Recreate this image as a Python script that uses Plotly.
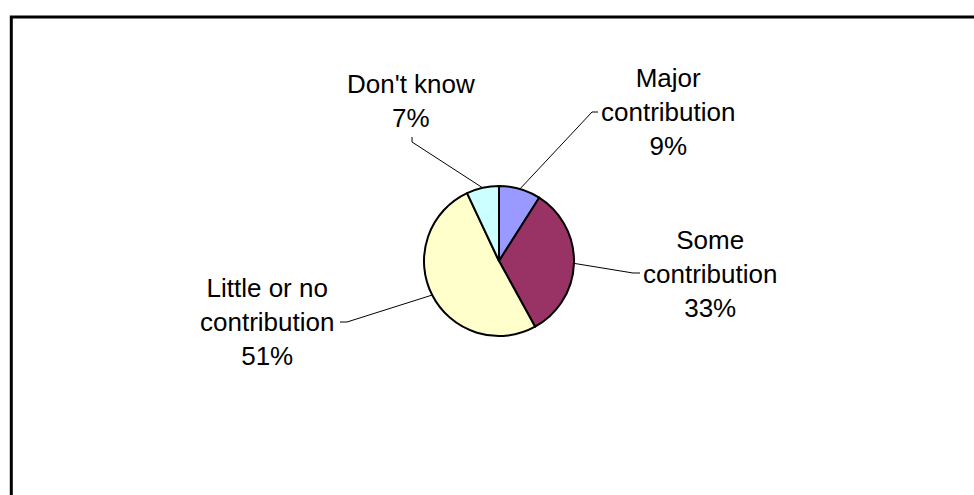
import math
import plotly.graph_objects as go

# ---- data ----
categories = ["Major<br>contribution", "Some<br>contribution", "Little or no<br>contribution", "Don't know"]
values = [9, 33, 51, 7]
pct_labels = ["9%", "33%", "51%", "7%"]
colors = ["#9999FF", "#993366", "#FFFFCC", "#CCFFFF"]

# ---- layout (pixel geometry) ----
W, H = 974, 495
CX, CY, R = 499, 261, 75
# label block centres and leader-line outer points (pixels)
label_pos = [(668, 112), (710, 274), (267, 322), (411, 101)]
leader_outer = [[(592, 112), (598, 112)],
                [(633, 273), (640, 273)],
                [(347, 322), (340, 322)],
                [(412, 142), (412, 137)]]

def px(x):
    return x / W

def py(y):
    return 1 - y / H

fig = go.Figure()
fig.add_trace(go.Pie(
    labels=[c.replace("<br>", " ") for c in categories],
    values=values,
    sort=False,
    direction="clockwise",
    rotation=0,
    textinfo="none",
    hoverinfo="label+percent",
    marker=dict(colors=colors, line=dict(color="black", width=2)),
    domain=dict(x=[px(CX - R), px(CX + R)], y=[py(CY + R), py(CY - R)]),
    showlegend=False,
))

shapes = []
# frame
shapes.append(dict(type="rect", xref="paper", yref="paper",
                   x0=px(11.3), x1=px(W + 20), y0=py(H + 20), y1=py(17),
                   line=dict(color="black", width=3), fillcolor="rgba(0,0,0,0)"))

annotations = []
total = sum(values)
cum = 0
for i, v in enumerate(values):
    mid = (cum + v / 2) / total * 2 * math.pi
    cum += v
    ex = CX + R * math.sin(mid)
    ey = CY - R * math.cos(mid)
    pts = [(ex, ey)] + leader_outer[i]
    path = "M " + " L ".join(f"{px(a)},{py(b)}" for a, b in pts)
    shapes.append(dict(type="path", xref="paper", yref="paper", path=path,
                       line=dict(color="black", width=1)))
    lx, ly = label_pos[i]
    annotations.append(dict(
        x=px(lx), y=py(ly), xref="paper", yref="paper",
        xanchor="center", yanchor="middle", showarrow=False, align="center",
        text=f"{categories[i]}<br>{pct_labels[i]}",
        font=dict(family="Liberation Sans, Arial, sans-serif", size=26, color="black"),
    ))

fig.update_layout(
    width=W, height=H,
    margin=dict(l=0, r=0, t=0, b=0),
    paper_bgcolor="white", plot_bgcolor="white",
    shapes=shapes, annotations=annotations,
)

fig.write_html("out.html")
